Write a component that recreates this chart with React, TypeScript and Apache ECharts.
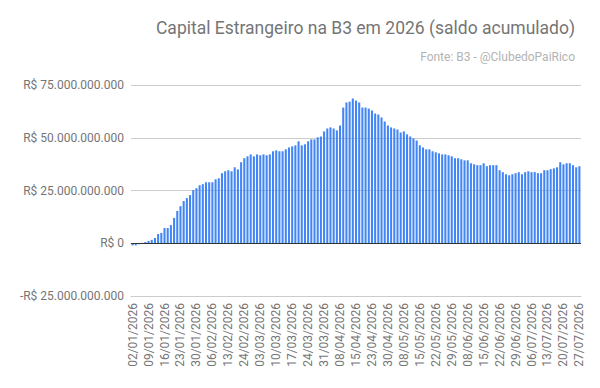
import React, { useEffect, useRef } from "react";
import * as echarts from "echarts";

// Trading days of 2026 (B3), by month
const tradingDays: [string, number[]][] = [
  ["01", [2, 5, 6, 7, 8, 9, 12, 13, 14, 15, 16, 19, 20, 21, 22, 23, 26, 27, 28, 29, 30]],
  ["02", [2, 3, 4, 5, 6, 9, 10, 11, 12, 13, 18, 19, 20, 23, 24, 25, 26, 27]],
  ["03", [2, 3, 4, 5, 6, 9, 10, 11, 12, 13, 16, 17, 18, 19, 20, 23, 24, 25, 26, 27, 30, 31]],
  ["04", [1, 2, 6, 7, 8, 9, 10, 13, 14, 15, 16, 17, 20, 22, 23, 24, 27, 28, 29, 30]],
  ["05", [4, 5, 6, 7, 8, 11, 12, 13, 14, 15, 18, 19, 20, 21, 22, 25, 26, 27, 28, 29]],
  ["06", [1, 2, 3, 5, 8, 9, 10, 11, 12, 15, 16, 17, 18, 19, 22, 23, 24, 25, 26, 29, 30]],
  ["07", [1, 2, 3, 6, 7, 8, 9, 10, 13, 14, 15, 16, 17, 20, 21, 22, 23, 24, 27]],
];

const categories: string[] = tradingDays.flatMap(([m, ds]) =>
  ds.map((d) => `${String(d).padStart(2, "0")}/${m}/2026`)
);

// Accumulated balance, in billions of R$
const saldoBilhoes: number[] = [
  -1.0, -1.0, -0.5, 0.2, 0.6, 1.1, 1.6, 2.5, 4.4, 4.9,
  7.2, 7.2, 8.6, 12.0, 15.3, 17.6, 20.0, 21.4, 22.8, 25.2,
  26.1, 27.5, 28.0, 28.9, 28.9, 28.9, 30.3, 30.8, 33.2, 34.1,
  34.6, 34.1, 36.0, 35.0, 38.4, 40.3, 41.2, 42.1, 41.2, 42.1,
  41.7, 42.1, 41.7, 42.1, 43.6, 44.0, 43.6, 43.6, 44.5, 45.4,
  45.9, 46.4, 48.3, 46.4, 46.9, 48.3, 49.2, 49.2, 50.2, 50.6,
  53.0, 54.4, 54.9, 54.4, 53.5, 55.8, 64.3, 66.7, 67.1, 68.6,
  67.6, 66.7, 64.3, 64.3, 63.8, 62.9, 61.5, 61.0, 59.6, 57.7,
  55.8, 54.9, 54.4, 53.9, 52.5, 53.0, 51.6, 50.6, 49.7, 48.7,
  46.4, 45.4, 44.5, 44.5, 43.6, 43.1, 42.6, 42.1, 42.1, 41.7,
  41.2, 40.3, 40.3, 39.8, 39.3, 39.3, 37.9, 37.4, 37.0, 37.0,
  37.9, 36.5, 37.0, 37.0, 37.0, 34.6, 33.7, 32.7, 32.2, 32.7,
  33.2, 33.7, 32.7, 33.7, 34.1, 33.7, 33.7, 33.2, 33.2, 34.6,
  34.6, 35.1, 35.5, 36.0, 38.4, 37.4, 37.9, 37.9, 37.0, 36.0,
  36.5,
];

const yMin = -25;
const yMax = 75;
const yStep = 25;

const titleText = "Capital Estrangeiro na B3 em 2026 (saldo acumulado)";
const subtitleText = "Fonte: B3 - @ClubedoPaiRico";

function formatReais(vBillions: number): string {
  const n = Math.round(Math.abs(vBillions) * 1e9);
  const s = String(n).replace(/\B(?=(\d{3})+(?!\d))/g, ".");
  return (vBillions < 0 ? "-" : "") + "R$ " + s;
}

export default function App() {
  const ref = useRef<HTMLDivElement>(null);
  useEffect(() => {
    if (!ref.current) return;
    const chart = echarts.init(ref.current, undefined, { renderer: "svg" });
    chart.setOption({
      animation: false,
      backgroundColor: "#ffffff",
      textStyle: { fontFamily: "Roboto" },
      title: [
        {
          text: titleText,
          right: 20,
          top: 14,
          textStyle: { fontFamily: "Roboto", fontSize: 17.5, fontWeight: "normal", color: "#757575" },
        },
        {
          text: subtitleText,
          right: 20,
          top: 46,
          textStyle: { fontFamily: "Roboto", fontSize: 12, fontWeight: "normal", color: "#b3b3b3" },
        },
      ],
      grid: { left: 131, right: 19, top: 85, bottom: 92, containLabel: false },
      xAxis: {
        type: "category",
        data: categories,
        boundaryGap: true,
        axisLine: { onZero: false, lineStyle: { color: "#cccccc", width: 1 } },
        axisTick: { show: false },
        axisLabel: {
          interval: 4,
          rotate: 90,
          margin: 7,
          fontSize: 12,
          fontFamily: "Roboto",
          color: "#757575",
        },
      },
      yAxis: {
        type: "value",
        min: yMin,
        max: yMax,
        interval: yStep,
        axisLine: { show: false },
        axisTick: { show: false },
        splitLine: { lineStyle: { color: "#cccccc", width: 1 } },
        axisLabel: {
          formatter: (v: number) => formatReais(v),
          fontSize: 12,
          fontFamily: "Roboto",
          color: "#757575",
          margin: 7,
        },
      },
      series: [
        {
          type: "bar",
          data: saldoBilhoes,
          barWidth: "65%",
          itemStyle: { color: "#4285F4" },
          markLine: {
            silent: true,
            symbol: "none",
            label: { show: false },
            lineStyle: { color: "#333333", width: 1, type: "solid" },
            data: [{ yAxis: 0 }],
          },
        },
      ],
    });
    return () => chart.dispose();
  }, []);
  return (
    <div
      ref={ref}
      style={{ position: "fixed", left: 0, top: 0, width: 600, height: 388 }}
    />
  );
}
